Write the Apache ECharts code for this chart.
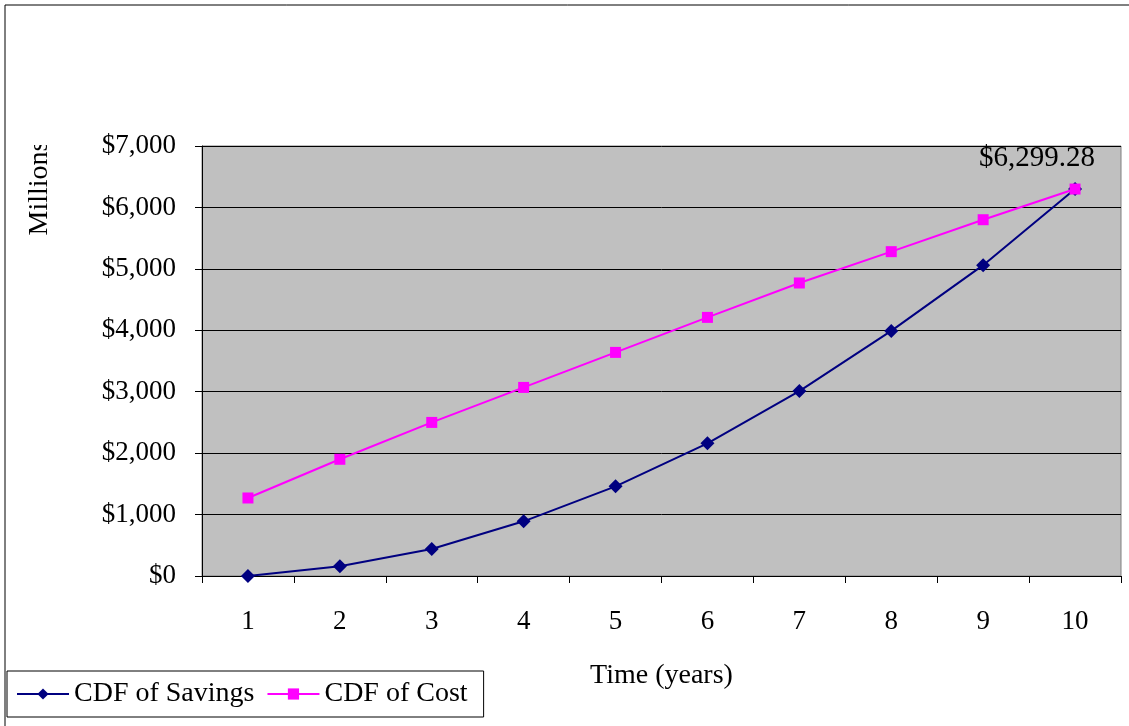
<!DOCTYPE html>
<html>
<head>
<meta charset="utf-8">
<script src="https://cdn.jsdelivr.net/npm/echarts@6/dist/echarts.min.js"></script>
<style>
  html, body { margin: 0; padding: 0; background: #ffffff; }
  #chart { width: 1129px; height: 726px; }
</style>
</head>
<body>
<div id="chart"></div>
<script>
// Cumulative savings vs. cumulative cost over a ten-year horizon (millions of dollars)
const years = ['1', '2', '3', '4', '5', '6', '7', '8', '9', '10'];
const cdfSavings = [0, 160, 440, 890, 1460, 2160, 3010, 3990, 5060, 6299.28];
const cdfCost = [1270, 1900, 2500, 3070, 3640, 4210, 4770, 5280, 5800, 6299.28];
const yTicks = { min: 0, max: 7000, interval: 1000 };

const serif = 'Liberation Serif';
const chart = echarts.init(document.getElementById('chart'), null, { renderer: 'canvas' });

const fmtDollar = v => '$' + v.toLocaleString('en-US');

chart.setOption({
  animation: false,
  backgroundColor: '#ffffff',
  textStyle: { fontFamily: serif },
  grid: {
    left: 202, right: 8, top: 146, bottom: 150,
    show: true, backgroundColor: '#c0c0c0', borderColor: '#808080', borderWidth: 1
  },
  legend: {
    left: 7, bottom: 9,
    orient: 'horizontal',
    itemWidth: 52, itemHeight: 14, itemGap: 12,
    padding: [9, 16, 9, 9],
    borderColor: '#000000', borderWidth: 1,
    backgroundColor: '#ffffff',
    textStyle: { fontFamily: serif, fontSize: 28, color: '#000000' },
    data: ['CDF of Savings', 'CDF of Cost']
  },
  xAxis: {
    type: 'category',
    data: years,
    boundaryGap: true,
    name: 'Time (years)',
    nameLocation: 'middle',
    nameGap: 86,
    nameTextStyle: { fontFamily: serif, fontSize: 28, color: '#000000', verticalAlign: 'top' },
    axisLine: { lineStyle: { color: '#000000', width: 1 } },
    axisTick: { show: true, length: 7, inside: false, lineStyle: { color: '#000000' } },
    axisLabel: { fontFamily: serif, fontSize: 27, color: '#000000', margin: 32 },
    splitLine: { show: false }
  },
  yAxis: {
    type: 'value',
    min: yTicks.min, max: yTicks.max, interval: yTicks.interval,
    axisLine: { show: true, lineStyle: { color: '#000000', width: 1 } },
    axisTick: { show: true, length: 7, lineStyle: { color: '#000000' } },
    axisLabel: { fontFamily: serif, fontSize: 27, color: '#000000', margin: 26, formatter: fmtDollar },
    splitLine: { show: true, lineStyle: { color: '#000000', width: 1 } }
  },
  graphic: [
    {
      type: 'text',
      x: 40, y: 188,
      rotation: Math.PI / 2,
      style: {
        text: 'Millions', fontFamily: serif, fontSize: 28, fill: '#000000',
        align: 'center', verticalAlign: 'middle'
      },
      z: 10
    },
    {
      type: 'rect',
      shape: { x: 20, y: 110, width: 40, height: 35 },
      style: { fill: '#ffffff' },
      z: 11
    },
    {
      type: 'rect',
      shape: { x: 5, y: 5, width: 1130, height: 730 },
      style: { fill: 'none', stroke: '#000000', lineWidth: 1 },
      silent: true,
      z: 12
    }
  ],
  series: [
    {
      name: 'CDF of Savings',
      type: 'line',
      data: cdfSavings,
      symbol: 'diamond',
      symbolSize: 14,
      lineStyle: { color: '#000080', width: 2 },
      itemStyle: { color: '#000080' },
      z: 3
    },
    {
      name: 'CDF of Cost',
      type: 'line',
      data: cdfCost,
      symbol: 'rect',
      symbolSize: 11,
      lineStyle: { color: '#ff00ff', width: 2 },
      itemStyle: { color: '#ff00ff' },
      z: 4,
      label: {
        show: true,
        position: 'top',
        distance: 11,
        offset: [-38, 0],
        fontFamily: serif, fontSize: 29, color: '#000000',
        formatter: p => p.dataIndex === cdfCost.length - 1
          ? '$' + p.value.toLocaleString('en-US', { minimumFractionDigits: 2, maximumFractionDigits: 2 })
          : ''
      }
    }
  ]
});
</script>
</body>
</html>
